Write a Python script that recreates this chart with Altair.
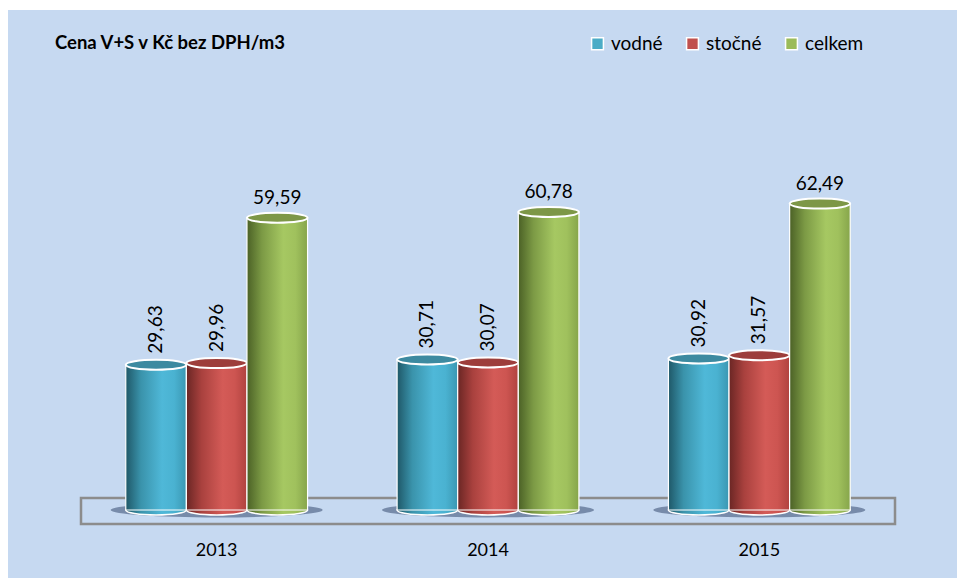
import altair as alt
import pandas as pd

years = ["2013", "2014", "2015"]
series = ["vodné", "stočné", "celkem"]
vodne = [29.63, 30.71, 30.92]
stocne = [29.96, 30.07, 31.57]
celkem = [59.59, 60.78, 62.49]
labels_vodne = ["29,63", "30,71", "30,92"]
labels_stocne = ["29,96", "30,07", "31,57"]
labels_celkem = ["59,59", "60,78", "62,49"]

rows = []
for i, y in enumerate(years):
    rows.append({"rok": y, "serie": "vodné", "hodnota": vodne[i], "popis": labels_vodne[i]})
    rows.append({"rok": y, "serie": "stočné", "hodnota": stocne[i], "popis": labels_stocne[i]})
    rows.append({"rok": y, "serie": "celkem", "hodnota": celkem[i], "popis": labels_celkem[i]})
df = pd.DataFrame(rows)
df["nula"] = 0.0

FONT = "Lato"
W, H = 814, 430
BW = 60.6
BG = "#c6d9f1"
ELL = "M -1 0 A 1 0.165 0 1 0 1 0 A 1 0.165 0 1 0 -1 0 Z"
SHADOW = "M -1 0 A 1 0.07 0 1 0 1 0 A 1 0.07 0 1 0 -1 0 Z"

base_colors = {"vodné": "#4bacc6", "stočné": "#c0504d", "celkem": "#9bbb59"}
grad_stops = {
    "vodné": ["#1f5868", "#3a93ab", "#4fb8d8", "#4ab2d1", "#3b97b2"],
    "stočné": ["#6a2624", "#a9413e", "#d45b57", "#cd5551", "#b0423f"],
    "celkem": ["#4b6126", "#7c9a45", "#a6c862", "#a0c15d", "#86a54b"],
}
top_colors = {"vodné": "#3d8aa0", "stočné": "#9d3e3b", "celkem": "#7d9747"}


def grad(name):
    c = grad_stops[name]
    return alt.LinearGradient(
        gradient="linear",
        stops=[
            alt.GradientStop(color=c[0], offset=0),
            alt.GradientStop(color=c[1], offset=0.25),
            alt.GradientStop(color=c[2], offset=0.6),
            alt.GradientStop(color=c[3], offset=0.8),
            alt.GradientStop(color=c[4], offset=1),
        ],
        x1=0, x2=1, y1=0, y2=0,
    )


xenc = alt.X("rok:N", sort=years, axis=alt.Axis(
    title=None, domain=False, ticks=False, labelAngle=0, labelFont=FONT,
    labelFontSize=18, labelColor="#000000", labelPadding=31, grid=False, zindex=2),
    scale=alt.Scale(paddingInner=0.33, paddingOuter=0.165))
xoff = alt.XOffset("serie:N", sort=series, scale=alt.Scale(paddingInner=0, paddingOuter=0))
yscale = alt.Scale(domain=[0, 87.7])

base = alt.Chart(df)
one = pd.DataFrame({"a": [0]})

# white margins at top and left (canvas background is the panel blue)
white_left = alt.Chart(one).mark_rect(fill="white").encode(
    x=alt.value(-90), x2=alt.value(-73), y=alt.value(-90), y2=alt.value(H + 100))
white_top = alt.Chart(one).mark_rect(fill="white").encode(
    x=alt.value(-90), x2=alt.value(W + 100), y=alt.value(-90), y2=alt.value(-70))
floor = alt.Chart(one).mark_rect(
    fill=BG, stroke="#8c8c8c", strokeWidth=2.5).encode(
    x=alt.value(0), x2=alt.value(W), y=alt.value(418), y2=alt.value(444))

shadow = base.transform_filter(alt.datum.serie == "stočné").mark_point(
    shape=SHADOW, filled=True, fill="#566a8c", opacity=0.7, size=212 * 212, strokeWidth=0).encode(
    x=xenc, y=alt.Y("nula:Q", scale=yscale, axis=None))

# legend carrier (solid bars, covered by gradient bars)
legend_bars = base.mark_bar(size=BW).encode(
    x=xenc, xOffset=xoff,
    y=alt.Y("hodnota:Q", scale=yscale, axis=None),
    color=alt.Color("serie:N", sort=series,
                    scale=alt.Scale(domain=series, range=[base_colors[s] for s in series]),
                    legend=alt.Legend(title=None, orient="none", legendX=507, legendY=-46,
                                      direction="horizontal", columns=3, columnPadding=20,
                                      symbolType="square", symbolSize=140,
                                      symbolStrokeColor="white", symbolStrokeWidth=1.5,
                                      labelFont=FONT, labelFontSize=19, labelColor="#000000",
                                      labelOffset=4)),
)

layers = [white_left, white_top, floor, shadow, legend_bars]
for s in series:
    sub = base.transform_filter(alt.datum.serie == s)
    bottom = sub.mark_point(shape=ELL, filled=True, fill=grad(s), stroke="white",
                            strokeWidth=1.5, size=BW * BW, opacity=1).encode(
        x=xenc, xOffset=xoff, y=alt.Y("nula:Q", scale=yscale, axis=None))
    body = sub.mark_bar(size=BW, fill=grad(s), stroke="white", strokeWidth=1.2, opacity=1).encode(
        x=xenc, xOffset=xoff, y=alt.Y("hodnota:Q", scale=yscale, axis=None))
    top = sub.mark_point(shape=ELL, filled=True, fill=top_colors[s], stroke="white",
                         strokeWidth=2, size=BW * BW, opacity=1).encode(
        x=xenc, xOffset=xoff, y=alt.Y("hodnota:Q", scale=yscale, axis=None))
    if s == "celkem":
        txt = sub.mark_text(font=FONT, fontSize=19, color="#000000", baseline="bottom",
                            dy=-10).encode(
            x=xenc, xOffset=xoff, y=alt.Y("hodnota:Q", scale=yscale, axis=None), text="popis:N")
    else:
        txt = sub.mark_text(font=FONT, fontSize=19, color="#000000", angle=270,
                            align="left", baseline="middle", dx=11).encode(
            x=xenc, xOffset=xoff, y=alt.Y("hodnota:Q", scale=yscale, axis=None), text="popis:N")
    layers += [bottom, body, top, txt]

title = alt.Chart(pd.DataFrame({"t": ["Cena V+S v Kč bez DPH/m3"]})).mark_text(
    font=FONT, fontSize=18.5, fontWeight="bold", color="#000000", align="left",
    baseline="middle").encode(x=alt.value(-26), y=alt.value(-37), text="t:N")
layers.append(title)

chart = alt.layer(*layers).properties(
    width=W, height=H,
    autosize=alt.AutoSizeParams(type="none"),
    padding={"left": 81, "top": 80, "right": 62, "bottom": 68},
    background=BG,
).configure_view(stroke=None)

chart.save("out.html", embed_options={"renderer": "svg", "actions": False})
